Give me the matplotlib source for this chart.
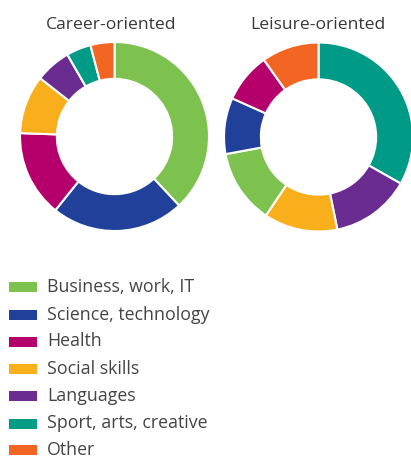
import matplotlib
matplotlib.use("Agg")
import matplotlib.pyplot as plt
from matplotlib.patches import Rectangle

categories = ["Business, work, IT", "Science, technology", "Health", "Social skills",
              "Languages", "Sport, arts, creative", "Other"]
colors = ["#7DC24F", "#21409A", "#B5006B", "#F9AE1B", "#6B2C91", "#009B86", "#F26522"]

career_values = [38.0, 22.7, 14.8, 10.0, 6.1, 4.2, 4.1]
career_order = [0, 1, 2, 3, 4, 5, 6]

leisure_values = [12.7, 9.6, 8.5, 12.6, 13.6, 33.2, 9.8]
leisure_order = [5, 4, 3, 0, 1, 2, 6]

titles = ["Career-oriented", "Leisure-oriented"]

plt.rcParams['font.family'] = ['Open Sans', 'DejaVu Sans']

W, H = 411, 458
fig = plt.figure(figsize=(W / 100, H / 100), dpi=100)


def donut(cx, cy, r, values, order, title, tx):
    ax = fig.add_axes([(cx - r) / W, (H - cy - r) / H, 2 * r / W, 2 * r / H])
    vals = [values[i] for i in order]
    cols = [colors[i] for i in order]
    ax.pie(vals, colors=cols, startangle=90, counterclock=False, radius=1,
           wedgeprops=dict(width=0.39, edgecolor="white", linewidth=1.5))
    ax.set_xlim(-1, 1)
    ax.set_ylim(-1, 1)
    ax.set_aspect("equal")
    ax.axis("off")
    fig.text(tx / W, 1 - 25 / H, title, ha="center", va="center",
             fontsize=12.6, color="#383838")


donut(114.5, 136.5, 94.5, career_values, career_order, titles[0], 111)
donut(318.5, 137.0, 94.5, leisure_values, leisure_order, titles[1], 318)

row_y = [287, 314.5, 341.5, 369, 396, 423.5, 450]
for i, (lab, col) in enumerate(zip(categories, colors)):
    y = row_y[i]
    fig.patches.append(Rectangle((9 / W, 1 - (y + 5) / H), 28 / W, 10 / H,
                                 transform=fig.transFigure, facecolor=col,
                                 edgecolor="none"))
    fig.text(47 / W, 1 - y / H, lab, ha="left", va="center",
             fontsize=12.8, color="#444444")

fig.savefig("out.png", dpi=100)
